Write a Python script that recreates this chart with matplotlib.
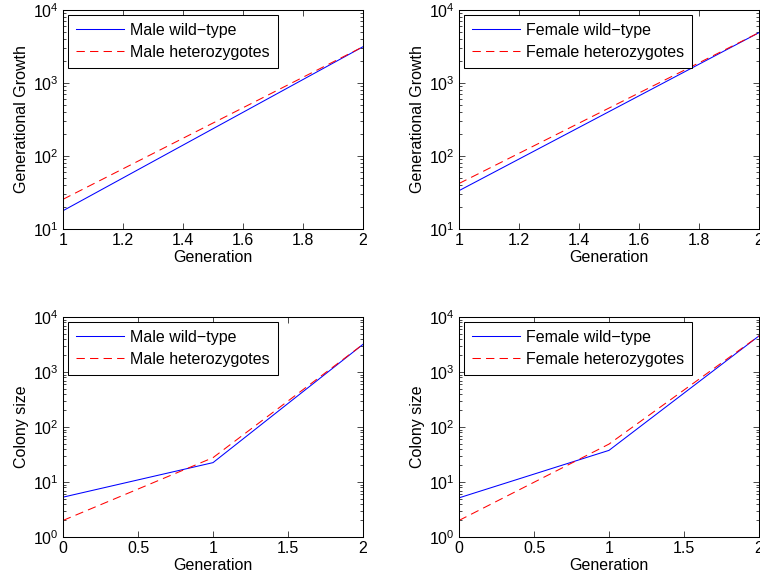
import matplotlib
matplotlib.use("Agg")
from matplotlib import pyplot as plt
from matplotlib.ticker import LogLocator, NullFormatter

plt.rcParams["font.family"] = ["Liberation Sans", "DejaVu Sans"]
plt.rcParams["mathtext.default"] = "regular"
plt.rcParams["font.size"] = 11.5

# growth curves (generation 1 -> 2)
gen_growth = [1, 2]
male_wt_growth = [17.8, 3140]
male_het_growth = [25.5, 3140]
female_wt_growth = [33.5, 4900]
female_het_growth = [42, 4900]

# colony size (generation 0 -> 2)
gen_colony = [0, 1, 2]
male_wt_colony = [5.3, 22.5, 3185]
male_het_colony = [2.0, 27.7, 3185]
female_wt_colony = [5.15, 37.6, 4530]
female_het_colony = [2.0, 48.9, 4530]

fig = plt.figure(figsize=(7.6, 5.82), dpi=100)
W, H = 760, 582

def px_axes(x0, y0, x1, y1):
    return fig.add_axes([x0 / W, 1 - y1 / H, (x1 - x0) / W, (y1 - y0) / H])

panels = [
    (px_axes(63, 10, 363, 229), gen_growth, male_wt_growth, male_het_growth,
     "Male wild\u2212type", "Male heterozygotes", "Generational Growth", (10, 1e4),
     [1, 1.2, 1.4, 1.6, 1.8, 2], ["1", "1.2", "1.4", "1.6", "1.8", "2"]),
    (px_axes(459, 10, 759, 229), gen_growth, female_wt_growth, female_het_growth,
     "Female wild\u2212type", "Female heterozygotes", "Generational Growth", (10, 1e4),
     [1, 1.2, 1.4, 1.6, 1.8, 2], ["1", "1.2", "1.4", "1.6", "1.8", "2"]),
    (px_axes(63, 317, 363, 537), gen_colony, male_wt_colony, male_het_colony,
     "Male wild\u2212type", "Male heterozygotes", "Colony size", (1, 1e4),
     [0, 0.5, 1, 1.5, 2], ["0", "0.5", "1", "1.5", "2"]),
    (px_axes(459, 317, 759, 537), gen_colony, female_wt_colony, female_het_colony,
     "Female wild\u2212type", "Female heterozygotes", "Colony size", (1, 1e4),
     [0, 0.5, 1, 1.5, 2], ["0", "0.5", "1", "1.5", "2"]),
]

for ax, x, wt, het, lab_wt, lab_het, ylabel, ylim, xt, xtl in panels:
    ax.plot(x, wt, color="blue", lw=0.75, label=lab_wt)
    ax.plot(x, het, color="red", lw=0.75, dashes=(8, 5), label=lab_het)
    ax.set_yscale("log")
    ax.set_xlim(x[0], x[-1])
    ax.set_ylim(*ylim)
    ax.set_xticks(xt)
    ax.set_xticklabels(xtl)
    ax.yaxis.set_major_locator(LogLocator(base=10, numticks=10))
    ax.yaxis.set_minor_locator(LogLocator(base=10, subs=range(2, 10), numticks=10))
    ax.yaxis.set_minor_formatter(NullFormatter())
    ax.tick_params(which="both", direction="in", top=True, right=True, width=0.5)
    ax.tick_params(which="major", length=4, pad=3)
    ax.tick_params(which="minor", length=2)
    for s in ax.spines.values():
        s.set_linewidth(0.75)
    ax.set_xlabel("Generation", labelpad=1)
    ax.set_ylabel(ylabel, labelpad=3)
    leg = ax.legend(loc="upper left", fancybox=False, edgecolor="black",
                    handlelength=3.0, handletextpad=0.4, borderaxespad=0.3,
                    framealpha=1, borderpad=0.5, labelspacing=0.45)
    leg.get_frame().set_linewidth(0.75)

fig.savefig("out.png", dpi=100)
